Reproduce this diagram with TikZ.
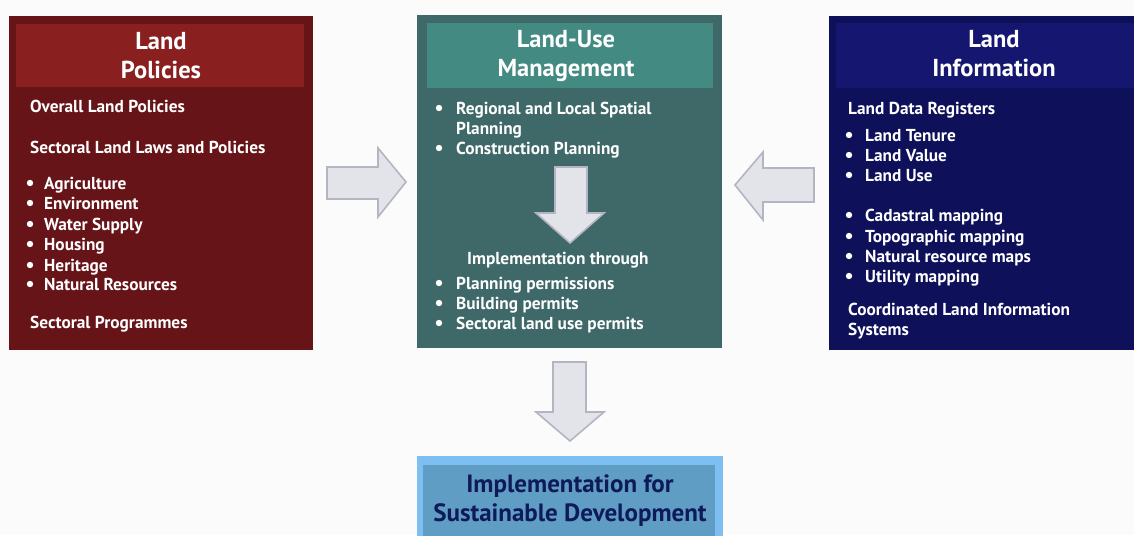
\documentclass[tikz,border=0pt]{standalone}
\usepackage{fontspec}
\setmainfont{PT Sans}
\definecolor{bgc}{HTML}{FBFBFB}
\definecolor{redout}{HTML}{661418}
\definecolor{redhead}{HTML}{8A1F1F}
\definecolor{tealout}{HTML}{3F6969}
\definecolor{tealhead}{HTML}{428A82}
\definecolor{blueout}{HTML}{0E105A}
\definecolor{bluehead}{HTML}{14166F}
\definecolor{lbout}{HTML}{7DBFF0}
\definecolor{lbin}{HTML}{5F9DC5}
\definecolor{navytxt}{HTML}{0F1A58}
\definecolor{arrfill}{HTML}{E3E3EA}
\definecolor{arrdraw}{HTML}{B3B6C2}
\tikzset{
  panel/.style={rectangle,inner sep=0pt,outer sep=0pt,anchor=north west},
  ttl/.style={anchor=base,text=white,font=\fontsize{24.5}{29}\selectfont\bfseries,inner sep=0pt},
  itm/.style={anchor=base west,text=white,font=\fontsize{17.3}{20}\selectfont\bfseries,inner sep=0pt},
  bul/.style={fill=white},
  blockarrow/.style={fill=arrfill,draw=arrdraw,line width=1.6pt,line join=miter},
  btxt/.style={anchor=base,text=navytxt,font=\fontsize{25}{29}\selectfont\bfseries,inner sep=0pt}
}
\begin{document}
\begin{tikzpicture}[x=1pt,y=-1pt]
\useasboundingbox (0,0) rectangle (1134,535);
\fill[bgc] (0,0) rectangle (1134,535);

% ---------- Land Policies ----------
\node[panel,fill=redout,minimum width=304pt,minimum height=334pt] (lp) at (9,16) {};
\node[panel,fill=redhead,minimum width=288pt,minimum height=63pt] (lph) at (16,24) {};
\node[ttl] (lpt1) at (161,49) {Land};
\node[ttl] (lpt2) at (161,78) {Policies};
\node[itm] (lp1) at (30,112) {Overall Land Policies};
\node[itm] (lp2) at (30,153) {Sectoral Land Laws and Policies};
\node[itm] (lp3) at (44,189) {Agriculture};
\node[itm] (lp4) at (44,209) {Environment};
\node[itm] (lp5) at (44,230) {Water Supply};
\node[itm] (lp6) at (44,250) {Housing};
\node[itm] (lp7) at (44,271) {Heritage};
\node[itm] (lp8) at (44,290) {Natural Resources};
\node[itm] (lp9) at (30,328) {Sectoral Programmes};
\foreach \y in {183,203,224,244,265,284} \fill[bul] (30,\y) circle (3.2);

% ---------- Land-Use Management ----------
\node[panel,fill=tealout,minimum width=305pt,minimum height=333pt] (lu) at (417,15) {};
\node[panel,fill=tealhead,minimum width=286pt,minimum height=65pt] (luh) at (427,23) {};
\node[ttl] (lut1) at (566,48) {Land-Use};
\node[ttl] (lut2) at (566,77) {Management};
\node[itm] (lu1) at (456,114) {Regional and Local Spatial};
\node[itm] (lu2) at (456,134) {Planning};
\node[itm] (lu3) at (456,154) {Construction Planning};
\node[itm] (lu4) at (467,264) {Implementation through};
\node[itm] (lu5) at (456,289) {Planning permissions};
\node[itm] (lu6) at (456,309) {Building permits};
\node[itm] (lu7) at (456,329) {Sectoral land use permits};
\foreach \y in {108,148,283,303,323} \fill[bul] (439,\y) circle (3.2);
% inner down arrow
\draw[blockarrow] (555,167) -- (587,167) -- (587,213) -- (604,213) -- (570,243)
  -- (536,213) -- (555,213) -- cycle;

% ---------- Land Information ----------
\node[panel,fill=blueout,minimum width=306pt,minimum height=334pt] (li) at (829,16) {};
\node[panel,fill=bluehead,minimum width=298pt,minimum height=65pt] (lih) at (836,23) {};
\node[ttl] (lit1) at (994,48) {Land};
\node[ttl] (lit2) at (994,76) {Information};
\node[itm] (li1) at (848,114) {Land Data Registers};
\node[itm] (li2) at (865,141) {Land Tenure};
\node[itm] (li3) at (865,161) {Land Value};
\node[itm] (li4) at (865,181) {Land Use};
\node[itm] (li5) at (865,221) {Cadastral mapping};
\node[itm] (li6) at (865,242) {Topographic mapping};
\node[itm] (li7) at (865,262) {Natural resource maps};
\node[itm] (li8) at (865,282) {Utility mapping};
\node[itm] (li9) at (848,315) {Coordinated Land Information};
\node[itm] (li10) at (848,335) {Systems};
\foreach \y in {135,155,175,215,236,256,276} \fill[bul] (849,\y) circle (3.2);

% ---------- Implementation box ----------
\node[panel,fill=lbout,minimum width=306pt,minimum height=80pt] (im) at (417,456) {};
\node[panel,fill=lbin,minimum width=292pt,minimum height=71pt] (imi) at (423,465) {};
\node[btxt] (imt1) at (570,492) {Implementation for};
\node[btxt] (imt2) at (570,521) {Sustainable Development};

% ---------- block arrows between panels ----------
\draw[blockarrow] (327,167) -- (378,167) -- (378,148) -- (406,182) -- (378,217)
  -- (378,199) -- (327,199) -- cycle;
\draw[blockarrow] (814,168) -- (763,168) -- (763,152) -- (735,185) -- (763,220)
  -- (763,202) -- (814,202) -- cycle;
\draw[blockarrow] (553,362) -- (586,362) -- (586,412) -- (604,412) -- (570,441)
  -- (536,412) -- (553,412) -- cycle;
\end{tikzpicture}
\end{document}
